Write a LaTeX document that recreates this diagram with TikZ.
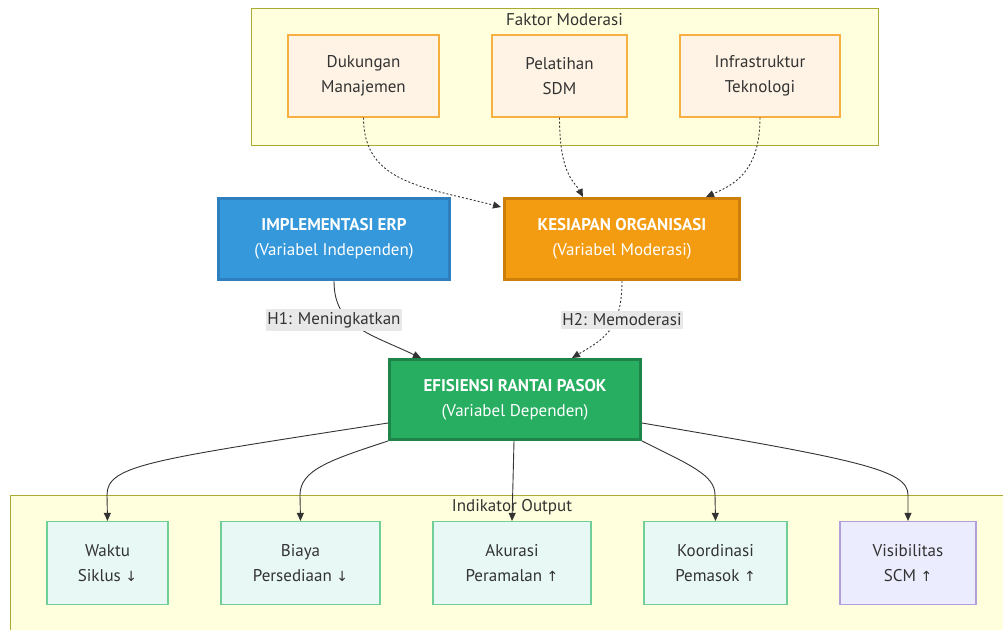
\documentclass[tikz,border=0pt]{standalone}
\usepackage{fontspec}
\setmainfont{PT Sans}
\newfontfamily\symf{DejaVu Sans}
\usetikzlibrary{arrows.meta}
\definecolor{clfill}{HTML}{FFFFDE}
\definecolor{cldraw}{HTML}{AAAA33}
\definecolor{fkfill}{HTML}{FEF3E4}
\definecolor{fkdraw}{HTML}{F5B041}
\definecolor{erpfill}{HTML}{3498DB}
\definecolor{erpdraw}{HTML}{2E7FC0}
\definecolor{kesfill}{HTML}{F39C12}
\definecolor{kesdraw}{HTML}{CC7F0A}
\definecolor{effill}{HTML}{27AE60}
\definecolor{efdraw}{HTML}{1E8449}
\definecolor{outfill}{HTML}{E8F8F5}
\definecolor{outdraw}{HTML}{6FCF97}
\definecolor{visfill}{HTML}{ECECFF}
\definecolor{visdraw}{HTML}{B39DDB}
\definecolor{txt}{HTML}{333333}
\definecolor{lblbg}{HTML}{E8E8E8}
\newcommand{\dn}{{\symf\fontsize{14}{25}\selectfont ↓}}
\newcommand{\upar}{{\symf\fontsize{14}{25}\selectfont ↑}}
\tikzset{
  cluster/.style={draw=cldraw, fill=clfill, line width=1pt, inner sep=0},
  cltitle/.style={text=txt, font=\fontsize{17}{20}\selectfont, inner sep=0},
  fk/.style={draw=fkdraw, fill=fkfill, line width=1.2pt, align=center, text=txt, inner sep=0, font=\fontsize{17}{25}\selectfont},
  mainbox/.style={line width=3pt, align=center, text=white, inner sep=0, font=\fontsize{17}{25}\selectfont},
  outbox/.style={draw=outdraw, fill=outfill, line width=1.2pt, align=center, text=txt, inner sep=0, font=\fontsize{17}{25}\selectfont},
  visbox/.style={draw=visdraw, fill=visfill, line width=1.2pt, align=center, text=txt, inner sep=0, font=\fontsize{17}{25}\selectfont},
  conn/.style={draw=txt, line width=0.9pt, -{Triangle[length=8pt,width=7pt]}},
  dconn/.style={conn, dash pattern=on 2pt off 2pt},
  lbl/.style={fill=lblbg, text=txt, inner xsep=1pt, inner ysep=3pt, font=\fontsize{17}{20}\selectfont}
}
\begin{document}
\begin{tikzpicture}[x=1pt,y=-1pt]
\useasboundingbox (0,0) rectangle (1003,629);
% clusters
\node[cluster, minimum width=627pt, minimum height=137pt] (cfk) at (564.5,76.5) {};
\node[cltitle] (cfkt) at (564.5,20) {Faktor Moderasi};
\node[cluster, minimum width=1000pt, minimum height=150pt] (cout) at (510,570) {};
\node[cltitle] (coutt) at (512,507) {Indikator Output};
% factor nodes
\node[fk, minimum width=151pt, minimum height=82pt] (dm) at (363.5,76) {Dukungan\\Manajemen};
\node[fk, minimum width=135pt, minimum height=82pt] (ps) at (559.5,76) {Pelatihan\\SDM};
\node[fk, minimum width=160pt, minimum height=82pt] (it) at (760,76) {Infrastruktur\\Teknologi};
% main nodes
\node[mainbox, draw=erpdraw, fill=erpfill, minimum width=231pt, minimum height=81pt] (erp) at (334,239) {\textbf{IMPLEMENTASI ERP}\\(Variabel Independen)};
\node[mainbox, draw=kesdraw, fill=kesfill, minimum width=235pt, minimum height=81pt] (kes) at (622,239) {\textbf{KESIAPAN ORGANISASI}\\(Variabel Moderasi)};
\node[mainbox, draw=efdraw, fill=effill, minimum width=251pt, minimum height=80pt] (efi) at (515,399.5) {\textbf{EFISIENSI RANTAI PASOK}\\(Variabel Dependen)};
% output nodes
\node[outbox, minimum width=121pt, minimum height=83pt] (wk) at (107.5,563) {Waktu\\Siklus \dn};
\node[outbox, minimum width=159pt, minimum height=83pt] (bp) at (300.5,563) {Biaya\\Persediaan \dn};
\node[outbox, minimum width=158pt, minimum height=83pt] (ap) at (512,563) {Akurasi\\Peramalan \upar};
\node[outbox, minimum width=143pt, minimum height=83pt] (kp) at (715.5,563) {Koordinasi\\Pemasok \upar};
\node[visbox, minimum width=136pt, minimum height=83pt] (vs) at (908,563) {Visibilitas\\SCM \upar};
% moderating factor edges
\draw[dconn] (dm.south) .. controls ([yshift=-65pt]dm.south) and ([xshift=-80pt,yshift=10pt]kes.north west) .. ([xshift=-2pt,yshift=-10pt]kes.north west);
\draw[dconn] (ps.south) .. controls ([yshift=-58pt]ps.south) and ([xshift=72pt,yshift=15pt]kes.north west) .. ([xshift=80pt]kes.north west);
\draw[dconn] (it.south) .. controls ([yshift=-55pt]it.south) and ([xshift=-8pt,yshift=12pt]kes.north east) .. ([xshift=-35pt]kes.north east);
% hypotheses
\draw[conn] (erp.south) .. controls ([yshift=-45pt]erp.south) and ([xshift=-20pt,yshift=25pt]efi.north west) .. ([xshift=33pt]efi.north west);
\node[lbl] (h1) at (334,320) {H1: Meningkatkan};
\draw[dconn] (kes.south) .. controls ([yshift=-50pt]kes.south) and ([xshift=-40pt,yshift=18pt]efi.north east) .. ([xshift=-70pt]efi.north east);
\node[lbl] (h2) at (622,320) {H2: Memoderasi};
% outputs
\draw[conn] ([yshift=18pt]efi.south west) .. controls (150,460) and (107,465) .. (107,495) -- (wk.north);
\draw[conn] (efi.south west) .. controls (330,460) and (300,470) .. (300,495) -- (bp.north);
\draw[conn] ([xshift=-1pt]efi.south) -- (ap.north);
\draw[conn] (efi.south east) .. controls (690,465) and (715,475) .. (715,495) -- (kp.north);
\draw[conn] ([yshift=18pt]efi.south east) .. controls (860,460) and (908,470) .. (908,495) -- (vs.north);
\end{tikzpicture}
\end{document}
